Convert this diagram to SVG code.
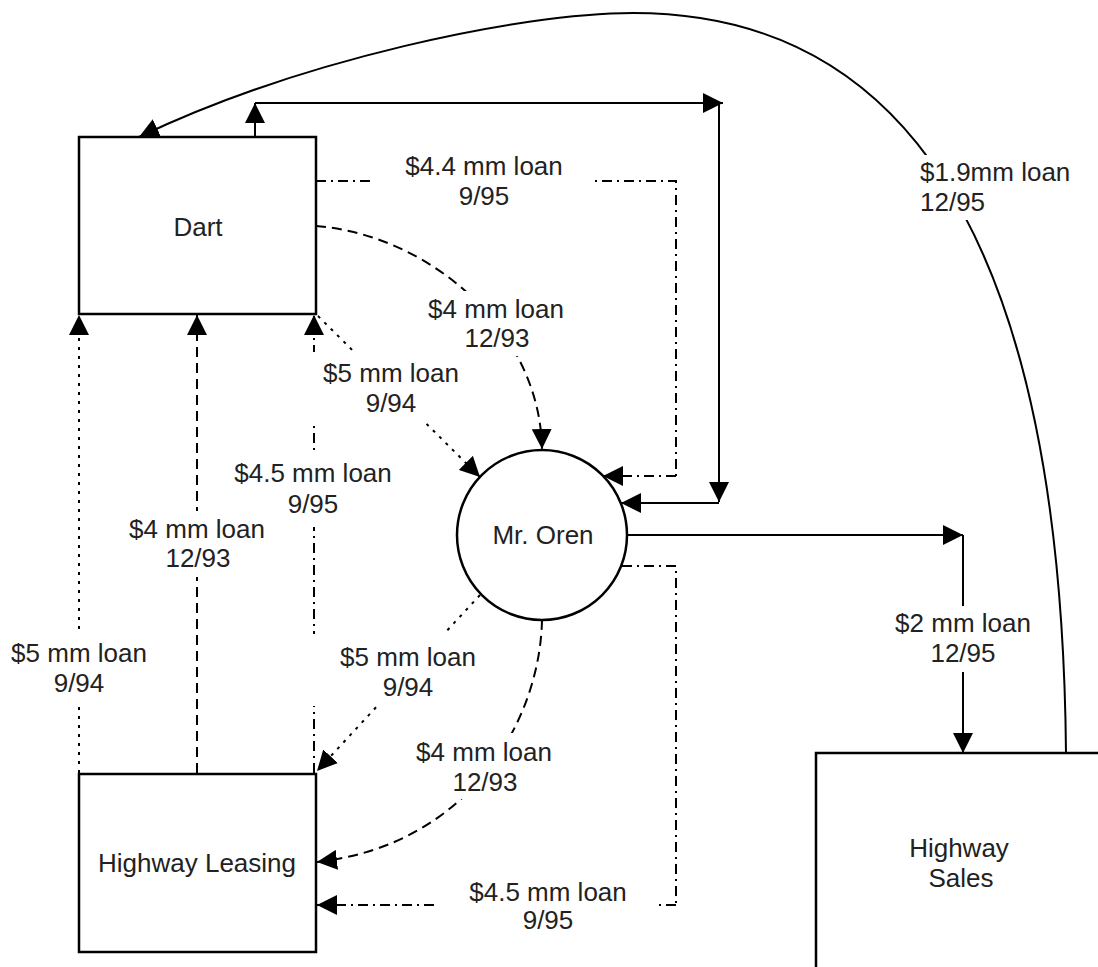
<svg xmlns="http://www.w3.org/2000/svg" width="1098" height="967" viewBox="0 0 1098 967">
<style>
.node{fill:#fff;stroke:#000;stroke-width:2.5}
.c{fill:none;stroke:#000;stroke-width:2}
.solid{marker-end:url(#ah)}
.dash{stroke-dasharray:10 6}
.dot{stroke-dasharray:3 6}
.dd{stroke-dasharray:10 5 2 5}
.arr{marker-end:url(#ah)}
.bg{fill:#fff;stroke:none}
text{font-family:"Liberation Sans",Arial,Helvetica,sans-serif;font-size:26px;fill:#222;text-anchor:middle}
.st{text-anchor:start}
</style>
<defs>
<marker id="ah" viewBox="0 0 20 20" refX="20" refY="10" markerWidth="20" markerHeight="20" markerUnits="userSpaceOnUse" orient="auto">
<path d="M0,0 L20,10 L0,20 z" fill="#000"/>
</marker>
</defs>
<g id="nodes">
<g id="dart"><rect class="node" x="79" y="137" width="237" height="177"/><text x="198" y="236">Dart</text></g>
<g id="oren"><circle class="node" cx="542" cy="535" r="85"/><text x="543" y="544">Mr. Oren</text></g>
<g id="leasing"><rect class="node" x="79" y="774" width="237" height="178"/><text x="197" y="872">Highway Leasing</text></g>
<g id="sales"><rect class="node" x="816" y="753" width="300" height="250"/><text x="959" y="857">Highway</text><text x="961" y="887">Sales</text></g>
</g>
<g id="connectors">
<path class="c arr" d="M255,137 L255,103"/>
<path class="c arr" d="M255,103 L723,103"/>
<path class="c arr" d="M719,103 L719,502"/>
<path class="c arr" d="M719,503 L621,503"/>
<path class="c arr" d="M627,535 L963,535"/>
<path class="c arr" d="M963,535 L963,753"/>
<path class="c arr" d="M1066,753 C1062,300 940,13 633,13 C520,13 300,60 139,137"/>
<path class="c dd" d="M316,181 L676,181 L676,476"/>
<path class="c dd arr" d="M676,476 L603,476"/>
<path class="c dash arr" d="M316,226 C430,235 540,330 542,449"/>
<path class="c dot arr" d="M318,316 L480,477"/>
<path class="c dot arr" d="M79,773 L79,315"/>
<path class="c dash arr" d="M197,773 L197,315"/>
<path class="c dd arr" d="M314,773 L314,315"/>
<path class="c dot arr" d="M480,595 L317,771"/>
<path class="c dash arr" d="M542,620 C540,720 470,845 317,862"/>
<path class="c dd" d="M622,566 L676,566 L676,905"/>
<path class="c dd arr" d="M676,905 L317,905"/>
</g>
<g id="labels">
<rect class="bg" x="372" y="148" width="218" height="64"/>
<text x="484" y="175">$4.4 mm loan</text><text x="484" y="205">9/95</text>
<rect class="bg" x="425" y="291" width="143" height="65"/>
<text x="496" y="318">$4 mm loan</text><text x="497" y="347">12/93</text>
<rect class="bg" x="310" y="352" width="160" height="70"/>
<text x="391" y="382">$5 mm loan</text><text x="391" y="412">9/94</text>
<rect class="bg" x="230" y="455" width="167" height="72"/>
<text x="313" y="482">$4.5 mm loan</text><text x="313" y="513">9/95</text>
<rect class="bg" x="127" y="511" width="140" height="66"/>
<text x="197" y="538">$4 mm loan</text><text x="198" y="567">12/93</text>
<rect class="bg" x="8" y="635" width="142" height="68"/>
<text x="79" y="662">$5 mm loan</text><text x="79" y="692">9/94</text>
<rect class="bg" x="310" y="634" width="170" height="72"/>
<text x="408" y="666">$5 mm loan</text><text x="408" y="696">9/94</text>
<rect class="bg" x="413" y="733" width="143" height="66"/>
<text x="484" y="761">$4 mm loan</text><text x="485" y="791">12/93</text>
<rect class="bg" x="437" y="874" width="218" height="64"/>
<text x="548" y="901">$4.5 mm loan</text><text x="548" y="929">9/95</text>
<rect class="bg" x="893" y="606" width="140" height="66"/>
<text x="963" y="632">$2 mm loan</text><text x="963" y="662">12/95</text>
<rect class="bg" x="915" y="155" width="160" height="65"/>
<text class="st" x="920" y="181">$1.9mm loan</text><text class="st" x="920" y="211">12/95</text>
</g>
</svg>
